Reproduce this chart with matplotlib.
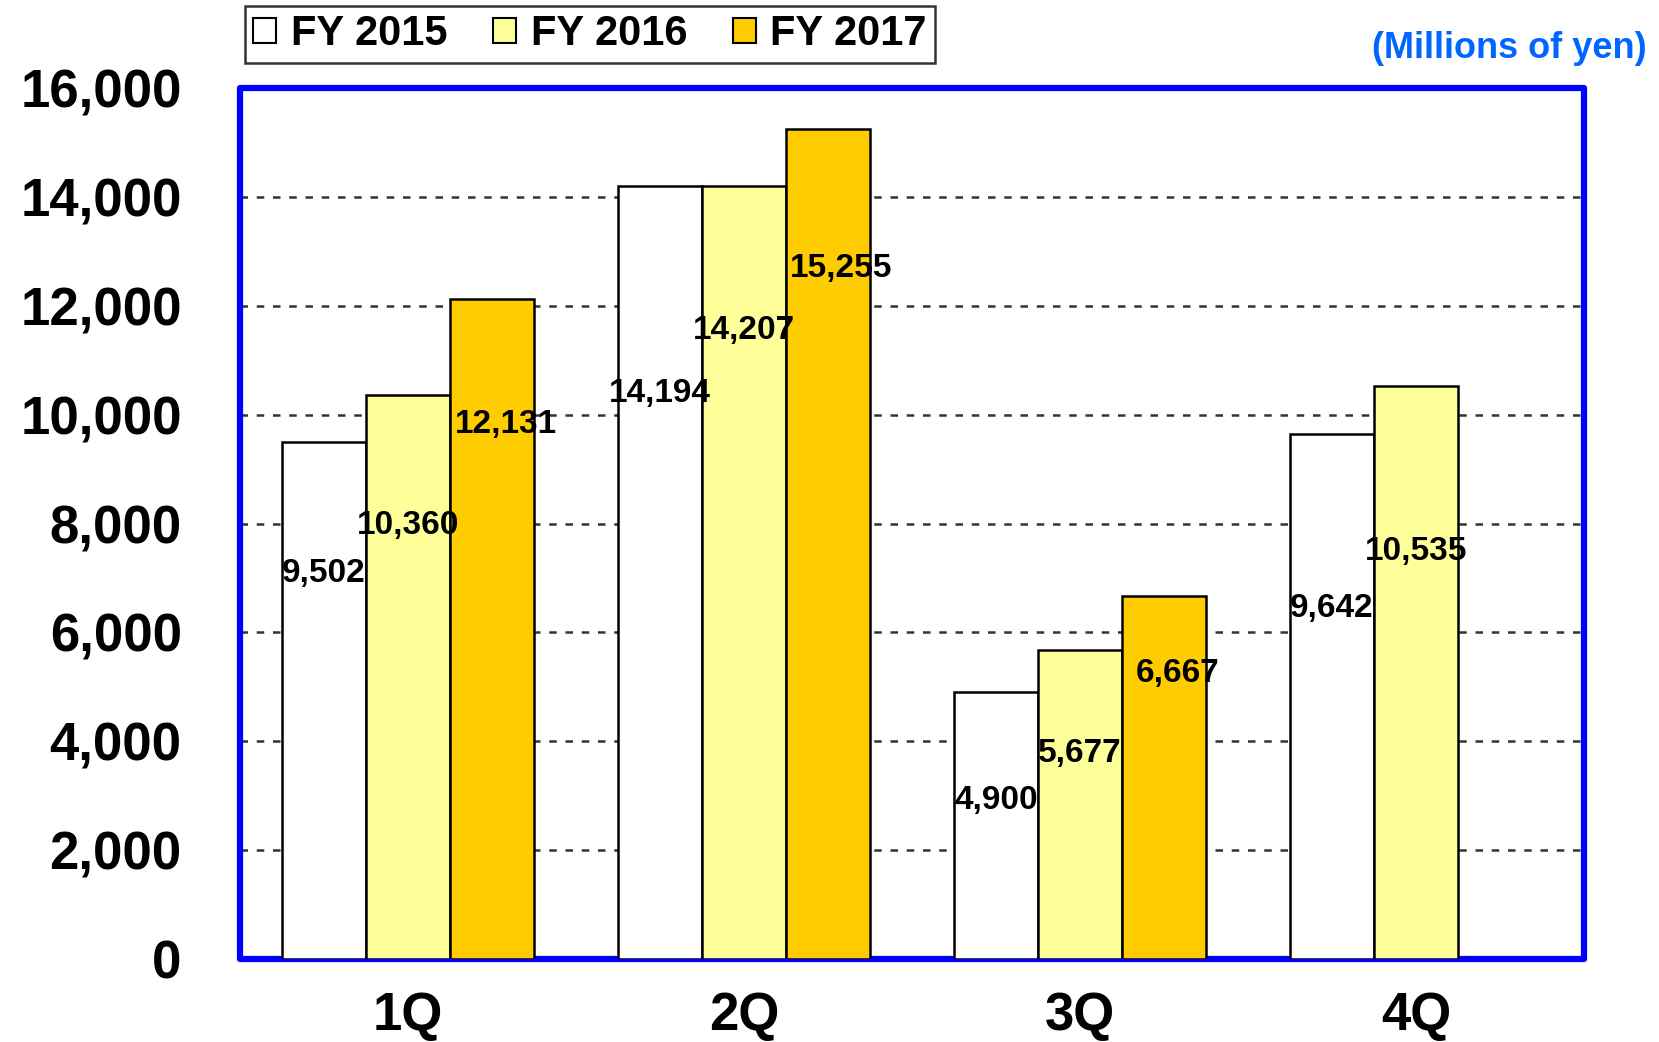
import numpy as np
import matplotlib
matplotlib.use("Agg")
import matplotlib.pyplot as plt
from matplotlib.patches import Patch, Rectangle

categories = ["1Q", "2Q", "3Q", "4Q"]
series_names = ["FY 2015", "FY 2016", "FY 2017"]
fy2015 = [9502, 14194, 4900, 9642]
fy2016 = [10360, 14207, 5677, 10535]
fy2017 = [12131, 15255, 6667, None]
yticks = [0, 2000, 4000, 6000, 8000, 10000, 12000, 14000, 16000]

# layout: vertical position (data units) of each value label
label_y2015 = [7077, 10382, 2916, 6435]
label_y2016 = [7971, 11548, 3772, 7485]
label_y2017 = [9818, 12676, 5249, None]
label_dx = [0.0, 0.0, 0.04]

colors = ["#FFFFFF", "#FFFF99", "#FFCC00"]
font = "Liberation Sans"

fig = plt.figure(figsize=(16.59, 10.42), dpi=100)
ax = fig.add_axes([240/1659, 1-959/1042, (1584-240)/1659, (959-88)/1042])

x = np.arange(len(categories))
w = 0.25
series = [fy2015, fy2016, fy2017]
labels_y = [label_y2015, label_y2016, label_y2017]
for i, (vals, ly) in enumerate(zip(series, labels_y)):
    off = (i - 1) * w
    for j, v in enumerate(vals):
        if v is None:
            continue
        ax.bar(x[j] + off, v, width=w, color=colors[i], edgecolor="black",
               linewidth=1.8, zorder=3)
        ax.text(x[j] + off + label_dx[i], ly[j], f"{v:,}", ha="center", va="center",
                fontsize=24, fontweight="bold", family=font, zorder=5)

ax.set_xlim(-0.5, 3.5)
ax.set_ylim(0, 16000)
ax.set_yticks(yticks)
ax.set_yticklabels([f"{t:,}" for t in yticks])
ax.set_xticks(x)
ax.set_xticklabels(categories)
for lab in ax.get_yticklabels() + ax.get_xticklabels():
    lab.set_fontfamily(font)
    lab.set_fontweight("bold")
    lab.set_fontsize(38)
ax.tick_params(axis="y", length=0, pad=42)
ax.tick_params(axis="x", length=0, pad=23)

for t in yticks[1:-1]:
    ax.axhline(t, color="#333333", linewidth=1.8, linestyle=(0, (3, 3.5)), zorder=1)

for s in ax.spines.values():
    s.set_visible(False)
frame = Rectangle((0, 0), 1, 1, transform=ax.transAxes, fill=False,
                  edgecolor="#0000FF", linewidth=4.5, joinstyle="round",
                  clip_on=False, zorder=2)
ax.add_patch(frame)

handles = [Patch(facecolor=c, edgecolor="black", linewidth=1.5) for c in colors]
leg = fig.legend(handles, series_names, loc="upper left",
                 bbox_to_anchor=(245/1659, 1-6/1042), ncol=3, frameon=True,
                 fancybox=False, handlelength=0.55, handleheight=0.55,
                 handletextpad=0.35, columnspacing=1.1, borderpad=0.2,
                 borderaxespad=0,
                 prop={"family": font, "weight": "bold", "size": 30})
leg.get_frame().set_edgecolor("black")
leg.get_frame().set_linewidth(1.8)

fig.text(1647/1659, 1-48/1042, "(Millions of yen)", ha="right", va="center",
         color="#0066FF", fontsize=26, fontweight="bold", family=font)

fig.savefig("out.png", dpi=100)
